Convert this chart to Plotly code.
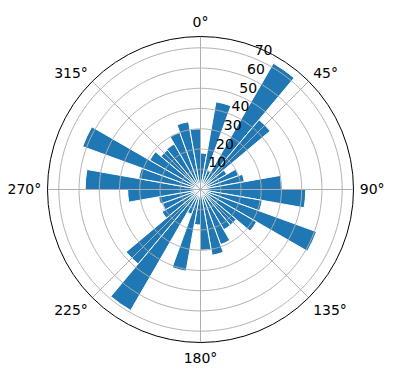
import plotly.graph_objects as go

theta_deg = [5 + 10 * i for i in range(36)]
heights = [18, 44, 10, 72, 45, 15, 20, 22, 40, 52, 31, 61,
           32, 23, 23, 29, 33, 30, 17.5, 41, 13, 69, 48, 22,
           20, 21, 36, 57, 31, 62, 29, 25.5, 26, 30, 34, 30]
angle_ticks = [0, 45, 90, 135, 180, 225, 270, 315]
angle_labels = [f"{a}°" for a in angle_ticks]
r_ticks = [10, 20, 30, 40, 50, 60, 70]
r_label_angle = 22.5
r_max = 72 * 1.05
grid_color = "#b0b0b0"

fig = go.Figure()
fig.add_trace(go.Barpolar(
    r=heights, theta=theta_deg, width=[10] * len(heights),
    marker=dict(color="#1f77b4", line=dict(color="white", width=1)),
    hoverinfo="skip",
))
# grid drawn above the bars, as in the reference
ring_theta = list(range(0, 361))
for rv in r_ticks:
    fig.add_trace(go.Scatterpolar(
        r=[rv] * len(ring_theta), theta=ring_theta, mode="lines",
        line=dict(color=grid_color, width=1), hoverinfo="skip"))
for a in angle_ticks:
    fig.add_trace(go.Scatterpolar(
        r=[0, r_max], theta=[a, a], mode="lines",
        line=dict(color=grid_color, width=1), hoverinfo="skip"))
fig.add_trace(go.Scatterpolar(
    r=r_ticks, theta=[r_label_angle] * len(r_ticks), mode="text",
    text=[str(v) for v in r_ticks], textposition="top right",
    textfont=dict(family="DejaVu Sans", size=14, color="black"),
    hoverinfo="skip",
))
fig.update_layout(
    width=396, height=380, margin=dict(l=0, r=0, t=0, b=0),
    paper_bgcolor="white", showlegend=False,
    font=dict(family="DejaVu Sans", size=14, color="black"),
    polar=dict(
        domain=dict(x=[47.5 / 396, 353.5 / 396], y=[37.5 / 380, 343.5 / 380]),
        bgcolor="white", bargap=0,
        angularaxis=dict(rotation=90, direction="clockwise",
                         tickvals=angle_ticks, ticktext=angle_labels,
                         showgrid=False,
                         showline=True, linecolor="black", linewidth=1,
                         ticks="outside", ticklen=3,
                         tickcolor="rgba(0,0,0,0)", layer="above traces"),
        radialaxis=dict(range=[0, r_max], tickvals=r_ticks,
                        showticklabels=False, showline=False, ticks="",
                        showgrid=False, layer="above traces"),
    ),
)
fig.write_html("out.html")
